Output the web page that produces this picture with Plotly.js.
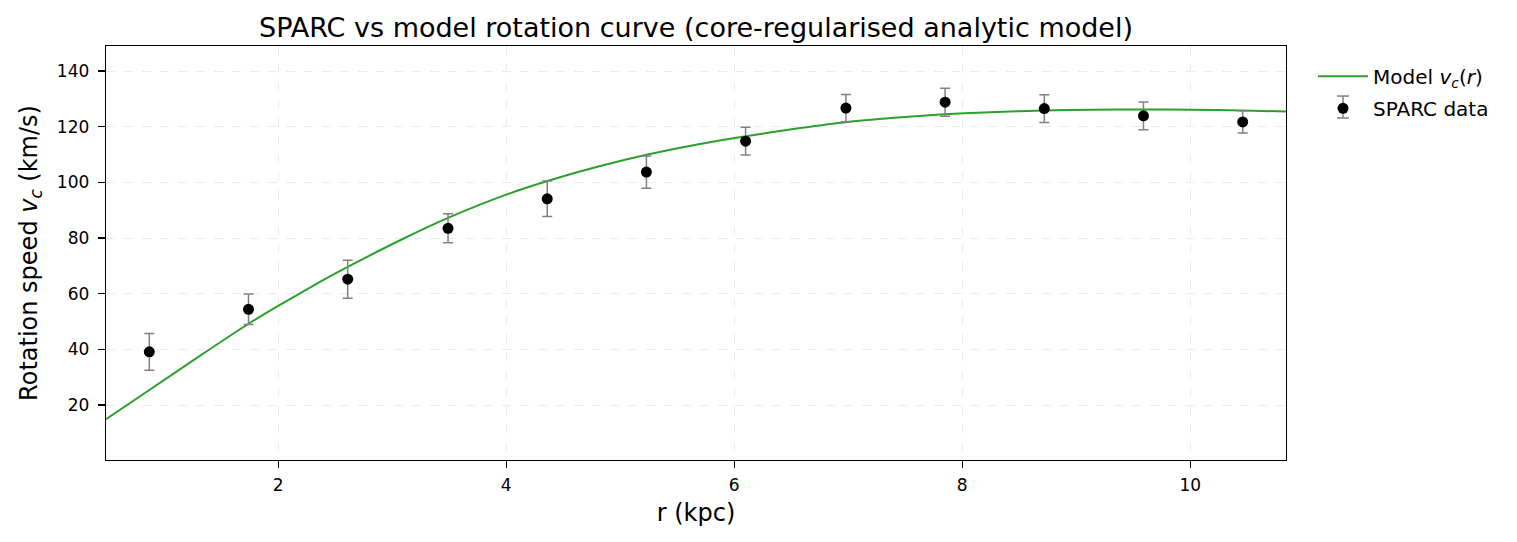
<!DOCTYPE html>
<html>
<head>
<meta charset="utf-8">
<script src="https://cdn.plot.ly/plotly-3.0.1.min.js"></script>
<style>html,body{margin:0;padding:0;background:#fff;}#chart{width:1517px;height:542px;}</style>
</head>
<body>
<div id="chart"></div>
<script>
// SPARC observed data
var rData = [0.87, 1.74, 2.61, 3.49, 4.36, 5.23, 6.10, 6.98, 7.85, 8.72, 9.59, 10.46];
var vData = [39.1, 54.4, 65.2, 83.5, 94.1, 103.7, 114.8, 126.7, 128.8, 126.5, 123.9, 121.7];
var vErr  = [6.6, 5.5, 6.8, 5.2, 6.4, 5.8, 5.0, 4.9, 5.0, 5.0, 5.0, 4.0];

// Model curve
var rModel = [0.49, 0.87, 1.3, 1.74, 2.0, 2.37, 2.61, 3.07, 3.5, 4.0, 4.37, 4.8, 5.24, 5.7, 6.1, 6.58, 6.97, 7.4, 7.84, 8.3, 8.71, 9.15, 9.59, 10.0, 10.46, 10.84];
var vModel = [14.9, 25.4, 37.3, 49.2, 55.6, 64.3, 69.6, 79.2, 87.4, 95.6, 100.6, 105.6, 110.0, 113.8, 116.6, 119.5, 121.6, 123.2, 124.5, 125.3, 125.8, 126.1, 126.2, 126.1, 125.8, 125.5];

var xTicks = [2, 4, 6, 8, 10];
var yTicks = [20, 40, 60, 80, 100, 120, 140];

var FONT = "DejaVu Sans, Liberation Sans, sans-serif";

var traces = [
  {
    x: rModel, y: vModel, type: 'scatter', mode: 'lines',
    name: 'Model <i>v</i><sub><i>c</i></sub>(<i>r</i>)', legendgroup: 'model',
    line: {color: '#2ca02c', width: 2, shape: 'spline', smoothing: 0.6}
  },
  {
    x: rData, y: vData, type: 'scatter', mode: 'markers',
    name: 'SPARC data', legendgroup: 'data',
    marker: {color: '#000000', size: 11},
    error_y: {type: 'data', array: vErr, visible: true, color: '#808080', thickness: 1.5, width: 5}
  }
];

var gridStyle = {showgrid: true, gridcolor: '#ebebeb', griddash: 'dash', gridwidth: 1};

// legend error-bar glyph (decoration for the "SPARC data" legend entry)
var gx = 1.0483, gyTop = 0.8792, gyBot = 0.8261, gCap = 0.0051;
var glyphLine = {color: '#808080', width: 1.5};
var legendGlyph = [
  {type: 'line', xref: 'paper', yref: 'paper', x0: gx, x1: gx, y0: gyBot, y1: gyTop, line: glyphLine},
  {type: 'line', xref: 'paper', yref: 'paper', x0: gx - gCap, x1: gx + gCap, y0: gyTop, y1: gyTop, line: glyphLine},
  {type: 'line', xref: 'paper', yref: 'paper', x0: gx - gCap, x1: gx + gCap, y0: gyBot, y1: gyBot, line: glyphLine}
];

var layout = {
  width: 1517, height: 542,
  paper_bgcolor: '#ffffff', plot_bgcolor: '#ffffff',
  font: {family: FONT, color: '#000000', size: 18},
  margin: {l: 106, r: 231, t: 46, b: 82},
  title: {
    text: 'SPARC vs model rotation curve (core-regularised analytic model)',
    font: {family: FONT, size: 27, color: '#000000'},
    x: 0.5, xref: 'paper', y: 1, yref: 'paper', yanchor: 'bottom', pad: {b: 9}
  },
  xaxis: Object.assign({
    range: [0.49, 10.84], tickvals: xTicks, ticktext: xTicks.map(String),
    showline: true, linecolor: '#000000', linewidth: 1.3, mirror: true,
    ticks: 'outside', ticklen: 7, tickwidth: 1.2, tickcolor: '#000000',
    ticklabelstandoff: 2,
    tickfont: {family: FONT, size: 17},
    zeroline: false,
    title: {text: 'r (kpc)', font: {family: FONT, size: 24}, standoff: 10}
  }, gridStyle),
  yaxis: Object.assign({
    range: [0.24, 149], tickvals: yTicks, ticktext: yTicks.map(String),
    showline: true, linecolor: '#000000', linewidth: 1.3, mirror: true,
    ticks: 'outside', ticklen: 7, tickwidth: 1.2, tickcolor: '#000000',
    ticklabelstandoff: 5,
    tickfont: {family: FONT, size: 17},
    zeroline: false,
    title: {text: 'Rotation speed <i>v</i><sub><i>c</i></sub> (km/s)', font: {family: FONT, size: 24}, standoff: 12}
  }, gridStyle),
  shapes: legendGlyph,
  showlegend: true,
  legend: {
    x: 1.0229, xanchor: 'left', y: 0.9738, yanchor: 'top',
    bgcolor: 'rgba(255,255,255,0)', borderwidth: 0,
    font: {family: FONT, size: 20, color: '#000000'},
    itemwidth: 50,
    traceorder: 'grouped',
    tracegroupgap: 3
  }
};

Plotly.newPlot('chart', traces, layout, {displayModeBar: false, staticPlot: true});
</script>
</body>
</html>
